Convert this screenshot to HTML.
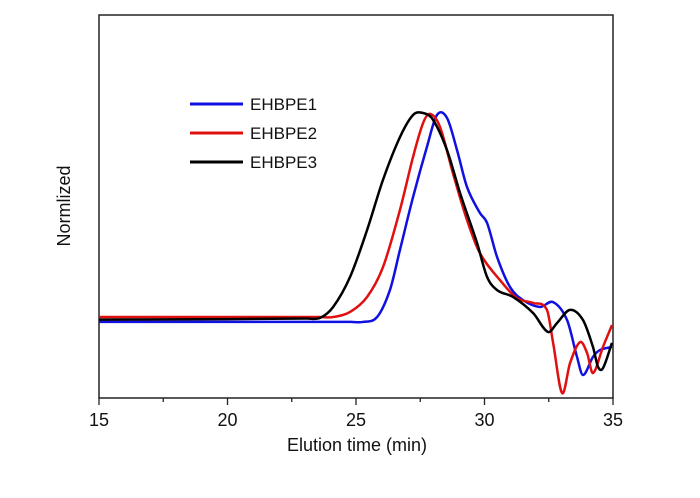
<!DOCTYPE html>
<html><head><meta charset="utf-8"><style>
body{margin:0;background:#fff}
svg{display:block;font-family:"Liberation Sans",Arial,sans-serif}
</style></head><body>
<svg id="chart" width="700" height="498">
<rect x="99" y="15" width="514" height="383" fill="none" stroke="#222" stroke-width="1.5"/>
<g id="xticks"></g>
<g id="series"></g>
<text x="357" y="451" font-size="18" text-anchor="middle" fill="#111">Elution time (min)</text>
<text transform="translate(70,206) rotate(-90)" font-size="18" text-anchor="middle" fill="#111">Normlized</text>
<g>
<line x1="190" y1="104" x2="243" y2="104" stroke="#1010e0" stroke-width="3"/>
<text x="250" y="110" font-size="17" fill="#111">EHBPE1</text>
<line x1="190" y1="133" x2="243" y2="133" stroke="#e01010" stroke-width="3"/>
<text x="250" y="139" font-size="17" fill="#111">EHBPE2</text>
<line x1="190" y1="162" x2="243" y2="162" stroke="#000" stroke-width="3"/>
<text x="250" y="168" font-size="17" fill="#111">EHBPE3</text>
</g>
</svg>
<script>
const xTickLabels=[15,20,25,30,35];
const blueT=[15,20,24.8,25.27,25.82,26.32,26.71,27.22,27.76,28.15,28.54,28.93,29.32,29.82,30.10,30.49,30.99,31.50,32.16,32.67,33.21,33.60,33.83,34.22,34.49,34.96];
const blueV=[27.2,27.2,27.2,27.2,28.9,38.3,52.3,70.7,88.2,99.3,98.3,87.1,74.2,65.2,61.7,49.8,39.4,34.8,32.4,34.1,27.9,15.0,8.7,15.0,17.4,18.5];
const redT=[15,20,23.6,24.11,24.77,25.43,26.05,26.71,27.22,27.61,27.88,28.27,28.77,29.32,29.82,30.60,31.26,31.89,32.43,32.67,33.02,33.33,33.72,33.99,34.22,34.61,34.96];
const redV=[28.9,28.9,28.9,28.9,30.7,35.9,46.3,66.2,84.7,96.5,99.7,95.1,79.1,62.7,51.2,41.8,35.5,33.8,31.4,19.9,2.4,12.9,20.2,16.4,9.4,18.5,26.1];
const blackT=[15,20,23.1,23.60,24.11,24.77,25.43,26.05,26.71,27.22,27.61,28.00,28.54,29.05,29.71,30.10,30.49,31.11,31.89,32.47,32.82,33.33,33.83,34.22,34.42,34.61,34.96];
const blackV=[28.0,28.2,28.4,28.6,32.4,42.9,59.2,76.7,91.6,99.3,100,97.6,87.1,72.1,54.7,42.9,38.3,35.9,30.3,23.7,26.8,31.4,27.9,18.5,11.5,11.1,19.9];
const NS='http://www.w3.org/2000/svg';
const X0=99,X1=613,Y0=400;
function xs(t){return X0+(t-15)/20*(X1-X0);}
function ys(v){return Y0-v*2.87;}
const xg=document.getElementById('xticks');
for(let t=15;t<=35.01;t+=2.5){
  const ln=document.createElementNS(NS,'line');
  const major=(t%5===0);
  ln.setAttribute('x1',xs(t));ln.setAttribute('x2',xs(t));
  ln.setAttribute('y1',398);ln.setAttribute('y2',major?405:402);
  ln.setAttribute('stroke','#222');ln.setAttribute('stroke-width','1.3');
  
  
  xg.appendChild(ln);
}
xTickLabels.forEach(v=>{
  const tx=document.createElementNS(NS,'text');
  tx.setAttribute('x',xs(v));tx.setAttribute('y',426);
  tx.setAttribute('font-size','18');tx.setAttribute('text-anchor','middle');tx.setAttribute('fill','#111');
  tx.textContent=v;
  
  
  xg.appendChild(tx);
});
function path(T,V){
  const p=T.map((t,i)=>[xs(t),ys(V[i])]);
  let d='M'+p[0][0]+','+p[0][1];
  for(let i=0;i<p.length-1;i++){
    const a=p[Math.max(0,i-1)],b=p[i],c=p[i+1],e=p[Math.min(p.length-1,i+2)];
    const w=c[0]-b[0];
    // tangents scaled to segment width to avoid loops
    const s1=(c[1]-a[1])/Math.max(1e-6,(c[0]-a[0]));
    const s2=(e[1]-b[1])/Math.max(1e-6,(e[0]-b[0]));
    const c1=[b[0]+w/3,b[1]+s1*w/3];
    const c2=[c[0]-w/3,c[1]-s2*w/3];
    d+=' C'+c1+' '+c2+' '+c;
  }
  return d;
}
const sg=document.getElementById('series');
[[blueT,blueV,'#1010e0','series-ehbpe1'],[redT,redV,'#e01010','series-ehbpe2'],[blackT,blackV,'#000','series-ehbpe3']].forEach(s=>{
  const pa=document.createElementNS(NS,'path');
  pa.setAttribute('d',path(s[0],s[1]));
  pa.setAttribute('fill','none');pa.setAttribute('stroke',s[2]);pa.setAttribute('stroke-width','2.5');
  
  
  sg.appendChild(pa);
});
</script>
</body></html>
